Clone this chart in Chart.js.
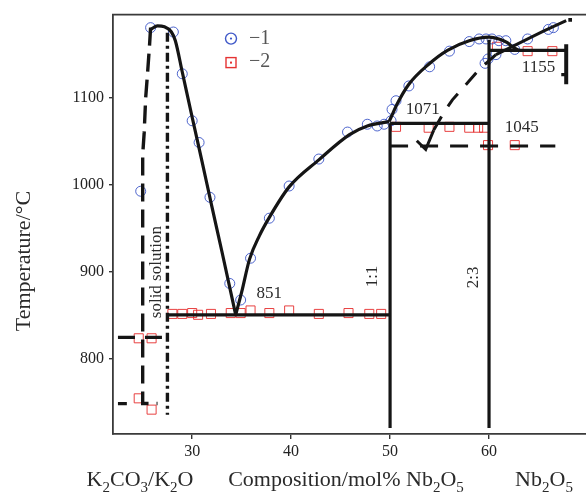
<!DOCTYPE html>
<html><head><meta charset="utf-8">
<script src="https://cdn.jsdelivr.net/npm/chart.js@4.4.0/dist/chart.umd.min.js"></script>
<style>html,body{margin:0;padding:0;background:#fff;}#wrap{width:586px;height:492px;}</style>
</head><body><div id="wrap"><canvas id="c" width="586" height="492"></canvas></div>
<script>
// ---- tick labels ----
const xTicks = [30, 40, 50, 60];
const yTicks = [800, 900, 1000, 1100];

// ---- measured points ----
const series1 = [[24.8,993],[25.8,1181],[28.1,1176],[29.0,1128],[30.0,1074],[30.7,1049],[31.8,986],[33.8,887],[34.9,868],[35.9,916],[37.8,962],[39.8,999],[42.8,1030],[45.7,1061],[47.7,1070],[48.7,1068],[49.4,1070],[50.1,1074],[50.2,1087],[50.6,1097],[51.9,1114],[54.0,1136],[56.0,1154],[58.0,1165],[59.0,1168],[59.6,1140],[59.7,1168],[59.9,1145],[60.3,1168],[60.7,1150],[61.0,1166],[61.7,1166],[62.6,1156],[63.9,1168],[66.0,1179],[66.5,1181]];
const series2 = [[24.6,824],[25.9,824],[24.6,755],[25.9,742],[28.0,852],[29.0,852],[30.0,853],[30.6,851],[31.9,852],[33.9,853],[34.9,853],[35.9,856],[37.8,853],[39.8,856],[42.8,852],[45.8,853],[47.9,852],[49.1,852],[50.6,1067],[53.9,1066],[56.0,1067],[58.0,1066],[58.9,1066],[59.5,1066],[59.9,1046],[62.6,1046],[60.8,1159],[63.9,1154],[66.4,1154]];

// ---- phase boundaries ----
const liquidusLeft = [[25.8,1179],[26.5,1183],[27.2,1182],[27.9,1176],[28.3,1166],[29.0,1130],[30.0,1078],[31.0,1027],[32.0,975],[33.0,924],[34.4,851]];
const liquidusMid = [[34.4,851],[35.0,877],[35.8,915],[36.8,942],[37.8,963],[39.8,998],[42.8,1029],[45.9,1058],[47.7,1068],[49.9,1073]];
const liquidusRight = [[49.9,1073],[50.3,1083],[50.7,1093],[51.9,1116],[53.9,1139],[55.8,1155],[58.0,1166],[60.0,1170],[61.0,1168],[61.8,1164],[62.5,1158],[63.0,1155]];
const metastable = [[54.4,1063],[55.5,1085],[56.3,1098],[57.7,1116],[59.0,1133],[60.7,1150],[63.0,1163],[65.5,1177],[67.8,1189]];
const metastableEnd = [[68.2,1190]];
const arrowHead = [[52.7,1051],[53.6,1041],[54.4,1063]];
const solidusLeft = [[25.8,1181],[25.7,1162],[25.5,1130],[25.3,1100],[25.15,1060],[25.0,1035],[25.0,749],[26.5,749]];
const solidSolutionEdge = [[27.5,1175],[27.5,736]];
const eutectic851 = [[27.5,851],[50,851]];
const peritectic1071 = [[50,1071],[60,1071]];
const line1045 = [[50,1045],[66.7,1045]];
const line1155 = [[60,1155],[67.8,1155]];
const bar1155 = [[67.8,1162],[67.8,1116]];
const stub1155 = [[67.3,1127],[67.8,1127]];
const compound11 = [[50,1071],[50,721]];
const compound23 = [[60,1167],[60,721]];
const line825 = [[22.5,825],[27.4,825]];
const stub749 = [[22.5,749],[23.4,749]];

// ---- text ----
const annotations = [
  {text:'851', x:37.8, y:875, rot:0},
  {text:'1071', x:53.3, y:1087, rot:0},
  {text:'1045', x:63.3, y:1066, rot:0},
  {text:'1155', x:65.0, y:1135, rot:0},
  {text:'solid solution', x:26.4, y:900, rot:-90},
  {text:'1:1', x:48.2, y:895, rot:-90},
  {text:'2:3', x:58.4, y:894, rot:-90}
];
const xTitles = [
  {text:'K_2CO_3/K_2O', cx:140},
  {text:'Composition/mol% Nb_2O_5', cx:346},
  {text:'Nb_2O_5', cx:544}
];
const yTitle = 'Temperature/°C';
const legendLabels = ['\u22121', '\u22122'];

const SERIF = '"Liberation Serif", "Times New Roman", serif';
const INK = '#151515';

function lineDs(data, opts) {
  return Object.assign({type:'scatter', data, showLine:true, pointRadius:0, pointHoverRadius:0,
    borderColor:INK, borderWidth:3.2, fill:false, tension:0, order:1, borderCapStyle:'butt'}, opts||{});
}

function drawRich(ctx, str, cx, baseline, size) {
  const parts = [];
  let i = 0;
  while (i < str.length) {
    if (str[i] === '_' ) { parts.push([str[i+1], true]); i += 2; }
    else { let j = i; let s=''; while (j < str.length && str[j] !== '_') { s += str[j]; j++; } parts.push([s,false]); i = j; }
  }
  const big = size + 'px ' + SERIF, small = Math.round(size*0.68) + 'px ' + SERIF;
  let w = 0;
  for (const [t, sub] of parts) { ctx.font = sub ? small : big; w += ctx.measureText(t).width; }
  let x = cx - w/2;
  ctx.textAlign = 'left'; ctx.textBaseline = 'alphabetic';
  for (const [t, sub] of parts) {
    ctx.font = sub ? small : big;
    ctx.fillText(t, x, baseline + (sub ? size*0.27 : 0));
    x += ctx.measureText(t).width;
  }
}

const decor = {
  id: 'decor',
  afterDraw(chart) {
    const {ctx, chartArea: ca, scales: {x, y}} = chart;
    ctx.save();
    ctx.strokeStyle = '#3a3a3a'; ctx.lineWidth = 1.8;
    ctx.beginPath(); ctx.moveTo(ca.left - 1, ca.top); ctx.lineTo(ca.right, ca.top); ctx.stroke();

    ctx.fillStyle = '#2a2a2a';
    ctx.font = '17px ' + SERIF; ctx.textAlign = 'center'; ctx.textBaseline = 'middle';
    for (const a of annotations) {
      ctx.save();
      ctx.translate(x.getPixelForValue(a.x), y.getPixelForValue(a.y));
      ctx.rotate(a.rot * Math.PI / 180);
      ctx.fillText(a.text, 0, 0);
      ctx.restore();
    }
    // y title
    ctx.save();
    ctx.font = '22px ' + SERIF;
    ctx.translate(24, 261); ctx.rotate(-Math.PI/2);
    ctx.textAlign = 'center'; ctx.textBaseline = 'middle';
    ctx.fillText(yTitle, 0, 0);
    ctx.restore();
    // x titles
    for (const t of xTitles) drawRich(ctx, t.text, t.cx, 486, 22);
    // legend
    const lx = ca.left + 118;
    ctx.lineWidth = 1.4;
    ctx.strokeStyle = '#3f58c8'; ctx.fillStyle = '#3f58c8';
    ctx.beginPath(); ctx.arc(lx, ca.top + 24, 5.5, 0, Math.PI*2); ctx.stroke();
    ctx.beginPath(); ctx.arc(lx, ca.top + 24, 1.1, 0, Math.PI*2); ctx.fill();
    ctx.strokeStyle = '#e53333'; ctx.fillStyle = '#e53333';
    ctx.strokeRect(lx - 5, ca.top + 48 - 5, 10, 10);
    ctx.fillRect(lx - 1, ca.top + 48 - 1, 2, 2);
    ctx.fillStyle = '#555'; ctx.font = '20px ' + SERIF; ctx.textAlign = 'left'; ctx.textBaseline = 'middle';
    ctx.fillText(legendLabels[0], lx + 18, ca.top + 24);
    ctx.fillText(legendLabels[1], lx + 18, ca.top + 47);
    ctx.restore();
  }
};

new Chart(document.getElementById('c'), {
  type: 'scatter',
  data: { datasets: [
    lineDs(liquidusLeft, {cubicInterpolationMode:'monotone'}),
    lineDs(liquidusMid, {cubicInterpolationMode:'monotone'}),
    lineDs(liquidusRight, {cubicInterpolationMode:'monotone'}),
    lineDs(metastable, {borderWidth:3, segment:{borderDash: c => c.p0.parsed.x < 60.5 ? [16,12] : undefined}}),
    {type:'scatter', data:metastableEnd, pointStyle:'rect', pointRadius:2.6, borderWidth:0, backgroundColor:INK, order:1},
    lineDs(arrowHead, {borderWidth:3}),
    lineDs(solidusLeft, {borderDash:[18,8], borderWidth:3.4}),
    lineDs(solidSolutionEdge, {borderDash:[9,4,3,4], borderWidth:3.4}),
    lineDs(eutectic851),
    lineDs(peritectic1071),
    lineDs(line1045, {borderDash:[18,12]}),
    lineDs(line1155),
    lineDs(bar1155, {borderWidth:4}),
    lineDs(stub1155),
    lineDs(compound11),
    lineDs(compound23),
    lineDs(line825, {borderDash:[17,10]}),
    lineDs(stub749),
    {label:'1', data:series1, pointStyle:'circle', pointRadius:5, borderWidth:1, borderColor:'rgba(60,85,200,0.9)', backgroundColor:'rgba(0,0,0,0)', order:5},
    {label:'2', data:series2, pointStyle:'rect', pointRadius:6.4, borderWidth:1, borderColor:'rgba(230,45,45,0.9)', backgroundColor:'rgba(0,0,0,0)', order:5}
  ]},
  options: {
    responsive: false, animation: false, devicePixelRatio: 1,
    layout: {autoPadding: false, padding: {top: 13, right: 0, left: 0, bottom: 0}},
    plugins: {legend: {display: false}, tooltip: {enabled: false}},
    scales: {
      x: {type:'linear', min:22, max:69.8,
        afterBuildTicks: s => { s.ticks = xTicks.map(v => ({value:v})); },
        afterFit: s => { s.height = 58; },
        grid: {display:true, drawOnChartArea:false, drawTicks:true, tickLength:5, color:'#333', lineWidth:1.4},
        border: {display:true, color:'#3a3a3a', width:1.8},
        ticks: {font:{family:SERIF, size:16}, color:'#222', padding:3, maxRotation:0, autoSkip:false, callback: v => String(v)}},
      y: {type:'linear', min:714, max:1196,
        afterBuildTicks: s => { s.ticks = yTicks.map(v => ({value:v})); },
        afterFit: s => { s.width = 113; },
        grid: {display:true, drawOnChartArea:false, drawTicks:true, tickLength:4, color:'#333', lineWidth:1.4},
        border: {display:true, color:'#3a3a3a', width:1.8},
        ticks: {font:{family:SERIF, size:16}, color:'#222', padding:5, callback: v => String(v)}}
    }
  },
  plugins: [decor]
});
</script></body></html>
